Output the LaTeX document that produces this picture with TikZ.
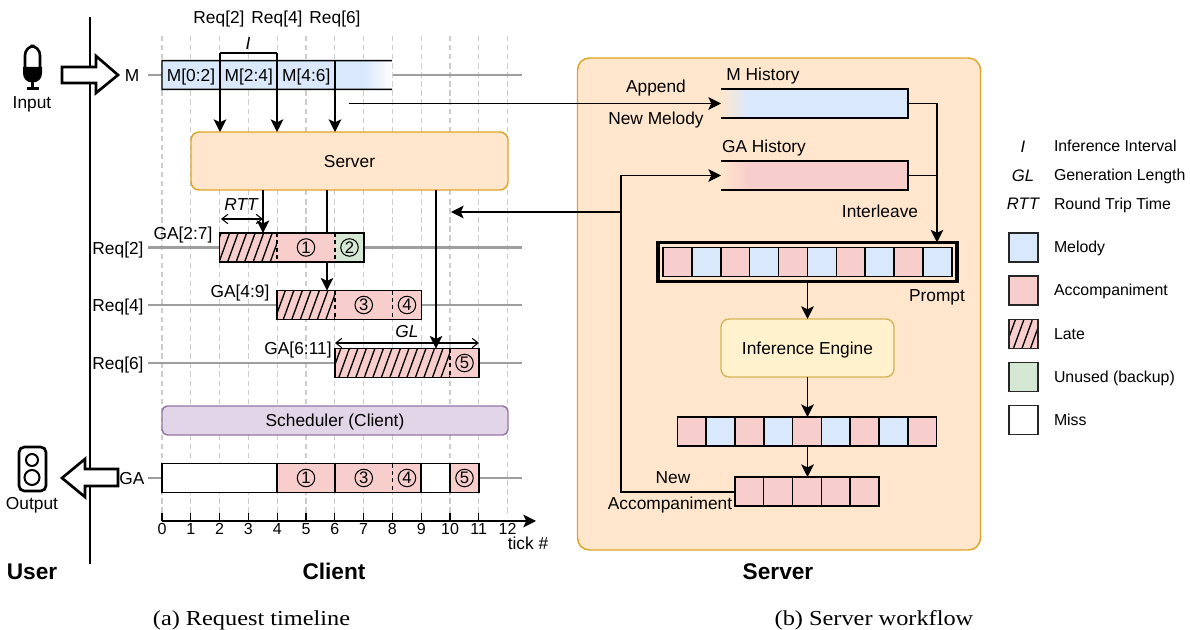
\documentclass[tikz,border=0pt]{standalone}
\usepackage{fontspec}
\setmainfont{Liberation Sans}
\newfontfamily\capfont[FakeStretch=1.14]{Liberation Serif}
\usetikzlibrary{arrows.meta,patterns.meta}
\newcommand{\px}[1]{#1*0.75pt}
\definecolor{mblue}{HTML}{DAE8FC}
\definecolor{accpink}{HTML}{F8CECC}
\definecolor{usedgreen}{HTML}{D5E8D4}
\definecolor{peach}{HTML}{FFE6CC}
\definecolor{peachline}{HTML}{E0A526}
\definecolor{lilac}{HTML}{E1D5E7}
\definecolor{lilacline}{HTML}{9673A6}
\definecolor{cream}{HTML}{FFF2CC}
\definecolor{creamline}{HTML}{D6B656}
\tikzset{
  every node/.style={font=\fontsize{13}{15}\selectfont, inner sep=0pt, outer sep=0pt, text height=9.3pt, text depth=0pt},
  legendtxt/.style={font=\fontsize{11.9}{14}\selectfont, anchor=west, text height=8.5pt},
  legendsym/.style={font=\fontsize{12.5}{14}\selectfont\itshape},
  italic/.style={font=\fontsize{13}{15}\selectfont\itshape},
  bold/.style={font=\fontsize{17}{20}\selectfont\bfseries, text height=12.2pt},
  caption/.style={font=\fontsize{16}{18}\selectfont\capfont, text height=10.6pt},
  ticknum/.style={font=\fontsize{12}{14}\selectfont, text height=8.6pt},
  gridline/.style={draw=black!20, line width=.8pt, dash pattern=on 4pt off 2.8pt},
  track/.style={draw=black!38, line width=2.2pt},
  arr/.style={-{Stealth[length=9.5pt,width=9.5pt,inset=2.2pt]}, line width=1.05pt},
  arrheavy/.style={arr, line width=1.45pt},
  span/.style={{Straight Barb[length=4.5pt,width=7pt]}-{Straight Barb[length=4.5pt,width=7pt]}, line width=.8pt},
  rule/.style={line width=1.1pt},
  divide/.style={line width=1pt, dash pattern=on 3pt off 2.5pt},
  bigarrow/.style={draw, fill=white, line width=2pt, miter limit=10},
  seg/.style={minimum height=\px{28.8}},
  melody/.style={seg, fill=mblue},
  acc/.style={seg, fill=accpink},
  unused/.style={seg, fill=usedgreen},
  late/.style={seg, preaction={fill=accpink}, pattern={Lines[angle=70,distance=6pt,line width=1pt]}, pattern color=black},
  cell/.style={draw, rule, minimum width=\px{28.8}, minimum height=\px{28.8}},
  swatch/.style={draw=black!85, rule, minimum width=\px{29}, minimum height=\px{29}},
  num/.style={draw, circle, line width=.8pt, minimum size=\px{17.5}, font=\fontsize{12.5}{14}\selectfont, text height=8.7pt},
  panel/.style={draw=peachline, fill=peach, line width=1.1pt},
}
\begin{document}
\begin{tikzpicture}[x=0.75pt, y=-0.75pt]
\useasboundingbox (0,0) rectangle (1190,630);

\foreach \i in {0,...,12}
    \draw[gridline] ({162+28.8*\i},36) -- ({162+28.8*\i},513);

\coordinate (userTop) at (90,17);
\coordinate (userBot) at (90,564);
\draw[line width=2.2pt] (userTop) -- (userBot);

\draw[bigarrow] (62,67) -- (96,67) -- (96,56) -- (118,75) -- (96,93) -- (96,83) -- (62,83) -- cycle;
\draw[bigarrow] (118,469) -- (85,469) -- (85,459) -- (62,478) -- (85,497) -- (85,486) -- (118,486) -- cycle;

\draw[line width=2pt, rounded corners=7pt] (25,46) rectangle (40,80);
\fill (23,67) -- (23,73) .. controls (23,79) and (27,82.5) .. (32.5,82.5) .. controls (38,82.5) and (42,79) .. (42,73) -- (42,67) -- (40,67) -- (25,67) -- cycle;
\draw[line width=2pt] (32.5,82) -- (32.5,88) (27,88.5) -- (39,88.5);
\draw[line width=2pt, rounded corners=4pt] (19,447) rectangle (46,491);
\draw[line width=1.5pt] (32,460) circle [radius=6] (32,477.5) circle [radius=7.5];

\node (inputLbl) at (32,102) {Input};
\node (outputLbl) at (32,503) {Output};
\node (mLbl) at (132,75) {M};
\node (gaLbl) at (132,478) {GA};

\draw[track] (148,75) -- (162,75);
\draw[track] (393,75) -- (522,75);
\draw[track] (148,478) -- (162,478);
\draw[track] (479,478) -- (522,478);
\draw[track] (148,247.5) -- (522,247.5);
\draw[track] (148,305) -- (522,305);
\draw[track] (148,363) -- (522,363);

\node[melody, minimum width=\px{58}] (m0) at (191,75) {M[0:2]};
\node[melody, minimum width=\px{57.5}] (m2) at (248.75,75) {M[2:4]};
\node[melody, minimum width=\px{57.5}] (m4) at (306.25,75) {M[4:6]};
\node[melody, minimum width=\px{30}] (m6) at (350,75) {};
\shade[left color=mblue, right color=white] (365,60.6) rectangle (392,89.4);
\coordinate (mEndTop) at (392,60.6);
\coordinate (mEndBot) at (392,89.4);
\draw[rule] (mEndTop) -- (m0.north west) -- (m0.south west) -- (mEndBot);
\draw[rule] (m4.north east) -- (m4.south east);

\node[panel, rounded corners=6pt, minimum width=\px{317}, minimum height=\px{58}] (server) at (349.5,161) {Server};

\coordinate (iTop) at (220,53);
\coordinate (iEnd) at (277,53);
\draw[rule] (iTop) -- (iEnd);
\draw[arr] (iTop) -- (server.north -| iTop);
\draw[arr] (iEnd) -- (server.north -| iEnd);
\draw[arr] (m4.south east) -- (server.north -| m4.south east);

\node (reqA) at (219,17) {Req[2]};
\node (reqB) at (277,17) {Req[4]};
\node (reqC) at (335,17) {Req[6]};
\node[italic] (iLbl) at (248,43) {I};

\node (rowA) at (118,248) {Req[2]};
\node (rowB) at (118,305) {Req[4]};
\node (rowC) at (118,363) {Req[6]};
\node (gaA) at (183,233) {GA[2:7]};
\node (gaB) at (240,291) {GA[4:9]};
\node (gaC) at (298,348) {GA[6:11]};

\node[late, minimum width=\px{115}] (c1) at (392.5,363) {};
\node[acc, minimum width=\px{29}] (c2) at (464.5,363) {};
\draw[rule] (c1.north west) rectangle (c2.south east);
\draw[divide] (c2.north west) -- (c2.south west);
\node[num] (c5) at (c2) {5};

\node[late, minimum width=\px{58}] (b1) at (306,305) {};
\node[acc, minimum width=\px{57.5}] (b2) at (363.75,305) {};
\node[acc, minimum width=\px{29}] (b3) at (407,305) {};
\draw[rule] (b1.north west) rectangle (b3.south east);
\draw[divide] (b2.north west) -- (b2.south west);
\draw[divide] (b3.north west) -- (b3.south west);
\node[num] (b3n) at (b2) {3};
\node[num] (b4n) at (b3) {4};

\coordinate (toB) at (327,190);
\coordinate (toC) at (436,190);
\coordinate (toA) at (263,190);
\draw[arr] (toB) -- (b1.north -| toB);
\draw[arr] (toC) -- (c1.north -| toC);

\node[late, minimum width=\px{57.5}] (a1) at (248.25,247.5) {};
\node[acc, minimum width=\px{58}] (a2) at (306,247.5) {};
\node[unused, minimum width=\px{29}] (a3) at (349.5,247.5) {};
\draw[rule] (a1.north west) rectangle (a3.south east);
\draw[divide] (a2.north west) -- (a2.south west);
\draw[divide] (a3.north west) -- (a3.south west);
\node[num] (a1n) at (a2) {1};
\node[num] (a2n) at (a3) {2};
\draw[arr] (toA) -- (a1.north -| toA);

\coordinate (rttL) at (221,219);
\coordinate (rttR) at (263,219);
\draw[span] (rttL) -- (rttR);
\node[italic] (rttLbl) at (241,204) {RTT};
\coordinate (glL) at (335,343);
\coordinate (glR) at (479,343);
\draw[span] (glL) -- (glR);
\node[italic] (glLbl) at (407,331) {GL};

\node[draw=lilacline, fill=lilac, line width=1.1pt, rounded corners=4pt, minimum width=\px{346}, minimum height=\px{29}] (sched) at (335,420.5) {Scheduler (Client)};

\node[seg, fill=white, minimum width=\px{115}] (g0) at (219.5,478) {};
\node[acc, minimum width=\px{58}] (g1) at (306,478) {};
\node[acc, minimum width=\px{57.5}] (g2) at (363.75,478) {};
\node[acc, minimum width=\px{29}] (g3) at (407,478) {};
\node[seg, fill=white, minimum width=\px{29}] (g4) at (435.5,478) {};
\node[acc, minimum width=\px{29}] (g5) at (464.5,478) {};
\draw[rule] (g0.north west) rectangle (g5.south east);
\draw[rule] (g1.north west) -- (g1.south west);
\draw[rule] (g2.north west) -- (g2.south west);
\draw[divide] (g3.north west) -- (g3.south west);
\draw[rule] (g4.north west) -- (g4.south west);
\draw[rule] (g5.north west) -- (g5.south west);
\node[num] (g1n) at (g1) {1};
\node[num] (g2n) at (g2) {3};
\node[num] (g3n) at (g3) {4};
\node[num] (g5n) at (g5) {5};

\coordinate (axisL) at (162,521);
\coordinate (axisR) at (536,521);
\draw[arr] (axisL) -- (axisR);
\foreach \i in {0,...,12} {
    \ifnum\i<12 \draw[line width=.9pt] ({162+28.8*\i},513) -- ({162+28.8*\i},521); \fi
    \node[ticknum] (tick\i) at ({162+28.8*\i},528.5) {\i};
}
\node (tickLbl) at (528,543) {tick \#};

\node[bold] (userLbl) at (32,571) {User};
\node[bold] (clientLbl) at (334,571) {Client};
\node[bold] (serverLbl) at (778,571) {Server};
\node[caption] (capA) at (251.5,618) {(a) Request timeline};
\node[caption] (capB) at (874,618) {(b) Server workflow};

\node[panel, rounded corners=9pt, minimum width=\px{403}, minimum height=\px{492}] (panelBox) at (779,304) {};

\node[fill=mblue, minimum width=\px{161}, minimum height=\px{29}] (mHist) at (827.5,103.5) {};
\shade[left color=peach, right color=mblue] (721,89) rectangle (747.5,118);
\coordinate (mHistTL) at (721,89);
\coordinate (mHistBL) at (721,118);
\draw[rule] (mHistTL) -- (mHist.north east) -- (mHist.south east) -- (mHistBL);
\node (mHistLbl) at (763,74) {M History};

\node[fill=accpink, minimum width=\px{161}, minimum height=\px{29}] (gaHist) at (827.5,175.5) {};
\shade[left color=peach, right color=accpink] (721,161) rectangle (747.5,190);
\coordinate (gaHistTL) at (721,161);
\coordinate (gaHistBL) at (721,190);
\draw[rule] (gaHistTL) -- (gaHist.north east) -- (gaHist.south east) -- (gaHistBL);
\node (gaHistLbl) at (764,146) {GA History};

\coordinate (meldFrom) at (349,103.5);
\coordinate (meldTo) at (721,103.5);
\draw[arr] (meldFrom) -- (meldTo);
\node (appendLbl) at (656,86) {Append};
\node (melodyLbl) at (656,118) {New Melody};

\node[draw, line width=2.6pt, minimum width=\px{299}, minimum height=\px{39}] (prompt) at (807.5,262) {};
\foreach \c [count=\i] in {accpink,mblue,accpink,mblue,accpink,mblue,accpink,mblue,accpink,mblue}
    \node[cell, fill=\c] (p\i) at ({648.5+28.9*\i},262) {};
\node (promptLbl) at (937,295) {Prompt};
\node (interLbl) at (880,211) {Interleave};

\coordinate (joinX) at (937,103.5);
\draw[rule] (mHist.east) -- (joinX);
\draw[rule] (gaHist.east) -- (gaHist.east -| joinX);
\draw[arr] (joinX) -- (prompt.north -| joinX);

\node[draw=creamline, fill=cream, line width=1.1pt, rounded corners=6pt, minimum width=\px{173}, minimum height=\px{58}] (engine) at (807.5,348) {Inference Engine};
\draw[arrheavy] (prompt.south -| engine.north) -- (engine.north);

\foreach \c [count=\i] in {accpink,mblue,accpink,mblue,accpink,mblue,accpink,mblue,accpink}
    \node[cell, fill=\c] (q\i) at ({663+28.8*\i},431.5) {};
\foreach \i in {1,...,5}
    \node[cell, fill=accpink] (n\i) at ({720.5+28.8*\i},491.5) {};
\draw[arrheavy] (engine.south) -- (q5.north -| engine.south);
\draw[arrheavy] (q5.south -| engine.south) -- (n3.north -| engine.south);

\node (newLbl) at (673,477) {New};
\node (accLbl) at (670,503) {Accompaniment};

\coordinate (backX) at (621,492);
\coordinate (backTop) at (621,175.5);
\coordinate (backTo) at (721,175.5);
\coordinate (backJoin) at (621,212);
\coordinate (backEnd) at (451,212);
\draw[rule] (n1.west |- backX) -- (backX) -- (backTop);
\draw[arr] (backTop) -- (backTo);
\draw[arr] (backJoin) -- (backEnd);

\node[legendsym] (symI) at (1023,146) {I};
\node[legendsym] (symGL) at (1023,175) {GL};
\node[legendsym] (symRTT) at (1023,203) {RTT};
\node[legendtxt] (txtI) at (1054,146) {Inference Interval};
\node[legendtxt] (txtGL) at (1054,175) {Generation Length};
\node[legendtxt] (txtRTT) at (1054,204) {Round Trip Time};

\node[swatch, fill=mblue] (swM) at (1023.5,247.5) {};
\node[swatch, fill=accpink] (swA) at (1023.5,290.5) {};
\node[swatch, late, draw=black!85, rule, minimum width=\px{29}, minimum height=\px{29}] (swL) at (1023.5,334) {};
\node[swatch, fill=usedgreen] (swU) at (1023.5,377) {};
\node[swatch, fill=white] (swN) at (1023.5,420) {};
\node[legendtxt] (txtM) at (1054,247) {Melody};
\node[legendtxt] (txtA) at (1054,290) {Accompaniment};
\node[legendtxt] (txtL) at (1054,334) {Late};
\node[legendtxt] (txtU) at (1054,377) {Unused (backup)};
\node[legendtxt] (txtN) at (1054,420) {Miss};
\end{tikzpicture}
\end{document}
